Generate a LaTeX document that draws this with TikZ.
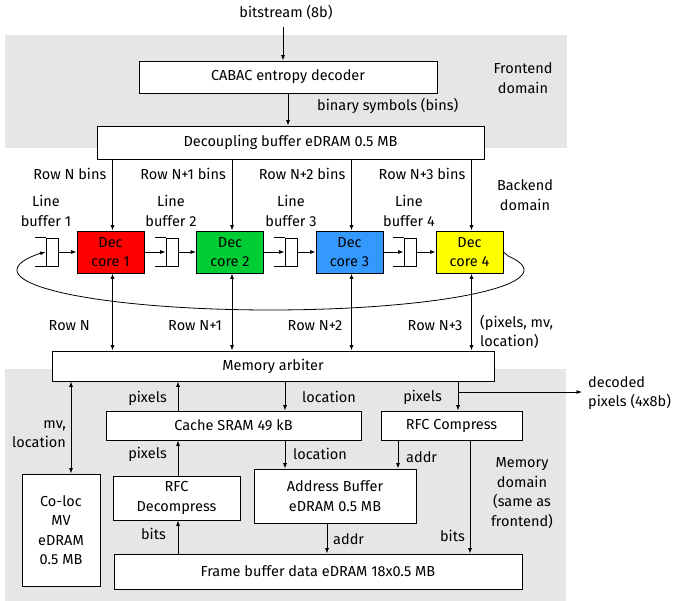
\documentclass[tikz,border=0pt]{standalone}
\usepackage{fontspec}
\setmainfont{Fira Sans}
\usetikzlibrary{arrows.meta,calc}
\definecolor{bggray}{RGB}{230,230,230}
\definecolor{corered}{RGB}{255,0,0}
\definecolor{coregreen}{RGB}{0,204,51}
\definecolor{coreblue}{RGB}{51,153,255}
\definecolor{coreyellow}{RGB}{255,255,0}
\begin{document}
\begin{tikzpicture}[x=1pt,y=-1pt, font=\fontsize{14.5}{19.5}\selectfont,
  box/.style={draw=black, line width=0.8pt, fill=white, inner sep=0pt, align=center},
  corebox/.style={box, minimum width=67pt, minimum height=42pt},
  lbuf/.style={draw=black, line width=0.8pt, fill=white, inner sep=0pt, minimum width=12pt, minimum height=28pt},
  arr/.style={line width=0.8pt, -{Latex[length=5.5pt,width=4pt]}},
  darr/.style={line width=0.8pt, {Latex[length=5.5pt,width=4pt]}-{Latex[length=5.5pt,width=4pt]}},
  lbl/.style={inner sep=0pt, align=center},
  plain/.style={line width=0.8pt},
]
\useasboundingbox (0,0) rectangle (673,601);
% domain backgrounds
\fill[bggray] (5,35) rectangle (567,148);
\fill[bggray] (5,369) rectangle (566,601);

% frontend
\node[lbl] (bitsl) at (286,12) {bitstream (8b)};
\node[box, minimum width=298pt, minimum height=32pt] (cabac) at (288,77) {CABAC entropy decoder};
\node[box, minimum width=387pt, minimum height=33pt] (decoup) at (290.5,142.5) {Decoupling buffer eDRAM 0.5 MB};
\node[lbl] (fe) at (523,78) {Frontend\\domain};
\node[lbl, anchor=west] (bsym) at (317,106) {binary symbols (bins)};
\coordinate (bsin) at (283,27);
\draw[arr] (bsin) -- (bsin |- cabac.north);
\draw[arr] (cabac.south) -- (cabac.south |- decoup.north);

% backend
\node[lbl] (be) at (525,195) {Backend\\domain};
\node[corebox, fill=corered] (core1) at (110.5,252) {Dec\\core 1};
\node[corebox, fill=coregreen] (core2) at (230,252) {Dec\\core 2};
\node[corebox, fill=coreblue] (core3) at (349.5,252) {Dec\\core 3};
\node[corebox, fill=coreyellow] (core4) at (469.5,252) {Dec\\core 4};

\node[lbuf] (lb1) at (52,252) {};
\node[lbuf] (lb2) at (172,252) {};
\node[lbuf] (lb3) at (291,252) {};
\node[lbuf] (lb4) at (410,252) {};
\foreach \b in {lb1,lb2,lb3,lb4}{
  \draw[plain] (\b.north west) -- ++(-11,0);
  \draw[plain] (\b.south west) -- ++(-11,0);
}
\node[lbl] (lbt1) at (46,211) {Line\\buffer 1};
\node[lbl] (lbt2) at (171,211) {Line\\buffer 2};
\node[lbl] (lbt3) at (291,211) {Line\\buffer 3};
\node[lbl] (lbt4) at (409,211) {Line\\buffer 4};

\draw[arr] (lb1.east) -- (core1.west);
\draw[arr] (core1.east) -- (lb2.west);
\draw[arr] (lb2.east) -- (core2.west);
\draw[arr] (core2.east) -- (lb3.west);
\draw[arr] (lb3.east) -- (core3.west);
\draw[arr] (core3.east) -- (lb4.west);
\draw[arr] (lb4.east) -- (core4.west);
% wrap-around loop
\draw[arr] (core4.east) -- plot[domain=-20:204, samples=100, smooth] ({270.5+253.5*cos(\x)},{270+40*sin(\x)}) -- (lb1.west);

% rows from decoupling buffer
\foreach \c/\t in {core1/Row N bins, core2/Row N+1 bins, core3/Row N+2 bins, core4/Row N+3 bins}{
  \coordinate (t-\c) at ([xshift=2pt]\c.north);
  \draw[arr] (decoup.south -| t-\c) -- (t-\c);
  \node[lbl, anchor=east] (rb-\c) at ($(decoup.south -| t-\c)+(-6,15)$) {\t};
}

% memory arbiter
\node[box, minimum width=442pt, minimum height=30pt] (arb) at (273,366) {Memory arbiter};
\foreach \c/\t in {core1/Row N, core2/Row N+1, core3/Row N+2, core4/Row N+3}{
  \coordinate (s-\c) at ([xshift=2pt]\c.south);
  \draw[darr] (s-\c) -- (s-\c |- arb.north);
  \node[lbl, anchor=west] (rl-\c) at ($(s-\c |- arb.north)+(-64,-25)$) {\t};
}
\node[lbl, anchor=west, align=left] (pml) at (480,332) {(pixels, mv,\\location)};

% memory domain
\node[box, minimum width=78pt, minimum height=112pt] (coloc) at (61,530) {Co-loc\\MV\\eDRAM\\0.5 MB};
\node[box, minimum width=255pt, minimum height=29pt] (cache) at (233.5,425.5) {Cache SRAM 49 kB};
\node[box, minimum width=141pt, minimum height=29pt] (rfcc) at (451.5,425.5) {RFC Compress};
\node[box, minimum width=127pt, minimum height=44pt] (rfcd) at (176.5,498) {RFC\\Decompress};
\node[box, minimum width=162pt, minimum height=54pt] (addrb) at (335,496) {Address Buffer\\eDRAM 0.5 MB};
\node[box, minimum width=408pt, minimum height=35pt] (fb) at (318,571.5) {Frame buffer data eDRAM 18x0.5 MB};
\node[lbl] (md) at (522,493) {Memory\\domain\\(same as\\frontend)};

% arbiter <-> co-loc
\coordinate (cl) at ([xshift=10pt]coloc.north);
\draw[darr] (cl |- arb.south) -- (cl);
\node[lbl, anchor=east, align=right] (mvl) at (66,434) {mv,\\location};

% cache <-> arbiter
\coordinate (cp) at (cache.north -| 178,0);
\draw[arr] (cp) -- (cp |- arb.south);
\node[lbl, anchor=east] (pl1) at (167,398) {pixels};
\coordinate (cloc) at (cache.north -| 285,0);
\draw[arr] (cloc |- arb.south) -- (cloc);
\node[lbl, anchor=west] (ll1) at (302,397) {location};

% arbiter -> RFC compress, decoded output
\coordinate (rp) at (rfcc.north -| 458,0);
\draw[arr] (rp |- arb.south) -- (rp);
\coordinate (br) at (458,392);
\coordinate (dout) at (582,392);
\draw[arr] (br) -- (dout);
\node[lbl, anchor=east] (pl2) at (442,397) {pixels};
\node[lbl, anchor=west, align=left] (decl) at (588,393) {decoded\\pixels (4x8b)};

% RFC decompress -> cache
\coordinate (dp) at (rfcd.north -| 178,0);
\draw[arr] (dp) -- (dp |- cache.south);
\node[lbl, anchor=east] (pl3) at (167,454) {pixels};
% cache -> address buffer
\coordinate (al) at (addrb.north -| 285,0);
\draw[arr] (al |- cache.south) -- (al);
\node[lbl, anchor=west] (ll2) at (293,454) {location};
% RFC compress -> address buffer
\coordinate (ca) at (addrb.north -| 398,0);
\draw[arr] (ca |- rfcc.south) -- (ca);
\node[lbl, anchor=west] (al1) at (406,457) {addr};
% RFC compress -> frame buffer
\coordinate (cb) at (fb.north -| 470,0);
\draw[arr] (cb |- rfcc.south) -- (cb);
\node[lbl, anchor=east] (bl1) at (465,536) {bits};
% frame buffer -> RFC decompress
\coordinate (fd) at (fb.north -| 178,0);
\draw[arr] (fd) -- (fd |- rfcd.south);
\node[lbl, anchor=east] (bl2) at (166,534) {bits};
% address buffer -> frame buffer
\coordinate (af) at (addrb.south -| 327,0);
\draw[arr] (af) -- (af |- fb.north);
\node[lbl, anchor=west] (al2) at (333,539) {addr};
\end{tikzpicture}
\end{document}
